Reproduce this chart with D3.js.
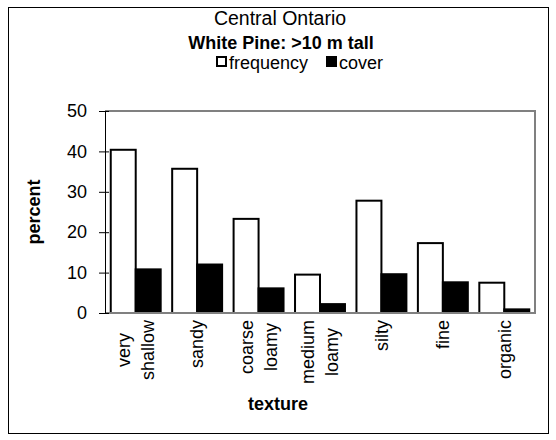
<!doctype html>
<html>
<head>
<meta charset="utf-8">
<script src="https://d3js.org/d3.v7.min.js"></script>
<style>
  body { margin: 0; background: #fff; }
  svg { font-family: "Liberation Sans", Arial, sans-serif; }
</style>
</head>
<body>
<svg width="556" height="440"></svg>
<script>
// data
var categories = ["very\nshallow", "sandy", "coarse\nloamy", "medium\nloamy", "silty", "fine", "organic"];
var frequency = [40.4, 35.7, 23.3, 9.5, 27.8, 17.3, 7.5];
var cover = [10.8, 12.0, 6.1, 2.2, 9.6, 7.6, 0.9];
var seriesNames = ["frequency", "cover"];
var yTicks = [0, 10, 20, 30, 40, 50];

var svg = d3.select("svg"),
    plotLeft = 105, plotRight = 535, plotTop = 111, plotBottom = 313,
    fs = 18;

// outer chart border
svg.append("rect")
   .attr("x", 8.5).attr("y", 7.5)
   .attr("width", 540).attr("height", 426)
   .attr("fill", "#fff").attr("stroke", "#000");

// titles
svg.append("text")
   .attr("x", 280).attr("y", 25)
   .attr("text-anchor", "middle")
   .attr("font-size", 19.5)
   .text("Central Ontario");

svg.append("text")
   .attr("x", 281).attr("y", 49)
   .attr("text-anchor", "middle")
   .attr("font-size", fs).attr("font-weight", "bold")
   .text("White Pine: >10 m tall");

// legend
var legendX = [216, 326];
seriesNames.forEach(function(name, i) {
    svg.append("rect")
       .attr("x", legendX[i] + 1).attr("y", 57)
       .attr("width", 9).attr("height", 9)
       .attr("fill", i == 0 ? "#fff" : "#000")
       .attr("stroke", "#000").attr("stroke-width", 2);
    svg.append("text")
       .attr("x", legendX[i] + 13).attr("y", 69)
       .attr("font-size", fs)
       .text(name);
});

var x0 = d3.scaleBand().domain(categories).range([plotLeft, plotRight]);
var x1 = d3.scaleBand().domain(seriesNames).range([0, x0.bandwidth()]).paddingOuter(0.23);
var y = d3.scaleLinear().domain([0, 50]).range([plotBottom, plotTop]);

var g = svg.append("g");

// bars
var rows = categories.map(function(c, i) { return {cat: c, frequency: frequency[i], cover: cover[i]}; });
seriesNames.forEach(function(s, si) {
    g.selectAll(".bar-" + s)
     .data(rows)
     .enter().append("rect")
     .attr("class", "bar-" + s)
     .attr("x", function(d) { return x0(d.cat) + x1(s); })
     .attr("y", function(d) { return y(d[s]); })
     .attr("width", x1.bandwidth())
     .attr("height", function(d) { return plotBottom - y(d[s]); })
     .attr("fill", si == 0 ? "#fff" : "#000")
     .attr("stroke", "#000")
     .attr("stroke-width", 2);
});

// plot area frame (grey)
svg.append("path")
   .attr("d", "M" + plotLeft + "," + plotTop + "H" + plotRight + "V" + plotBottom + "H" + plotLeft)
   .attr("fill", "none").attr("stroke", "#808080").attr("stroke-width", 2);

// y axis
var yAxis = svg.append("g")
   .attr("transform", "translate(" + plotLeft + ",0)")
   .call(d3.axisLeft(y).tickValues(yTicks).tickSize(6).tickPadding(12));
yAxis.select(".domain").attr("stroke", "#000").attr("stroke-width", 1);
yAxis.selectAll(".tick line").attr("x2", 4).attr("x1", -6).attr("stroke", "#000");
yAxis.selectAll(".tick text")
   .attr("font-size", fs).attr("font-family", "Liberation Sans, Arial, sans-serif")
   .attr("fill", "#000");

// category labels, rotated, each block starting just below the axis
var labelTop = 320, lineGap = 24;
categories.forEach(function(c) {
    var lines = c.split("\n");
    var cx = x0(c) + x0.bandwidth() / 2;
    var texts = lines.map(function(line) {
        return svg.append("text").attr("font-size", fs).attr("text-anchor", "middle").text(line);
    });
    var maxLen = d3.max(texts, function(t) { return t.node().getComputedTextLength(); });
    texts.forEach(function(t, i) {
        var off = (i - (lines.length - 1) / 2) * lineGap;
        t.attr("transform", "translate(" + (cx + off) + "," + (labelTop + maxLen / 2) + ") rotate(-90)")
         .attr("dy", "0.35em");
    });
});

// axis titles
svg.append("text")
   .attr("transform", "translate(40,212) rotate(-90)")
   .attr("text-anchor", "middle")
   .attr("font-size", fs).attr("font-weight", "bold")
   .text("percent");

svg.append("text")
   .attr("x", 278).attr("y", 410)
   .attr("text-anchor", "middle")
   .attr("font-size", fs).attr("font-weight", "bold")
   .text("texture");
</script>
</body>
</html>
